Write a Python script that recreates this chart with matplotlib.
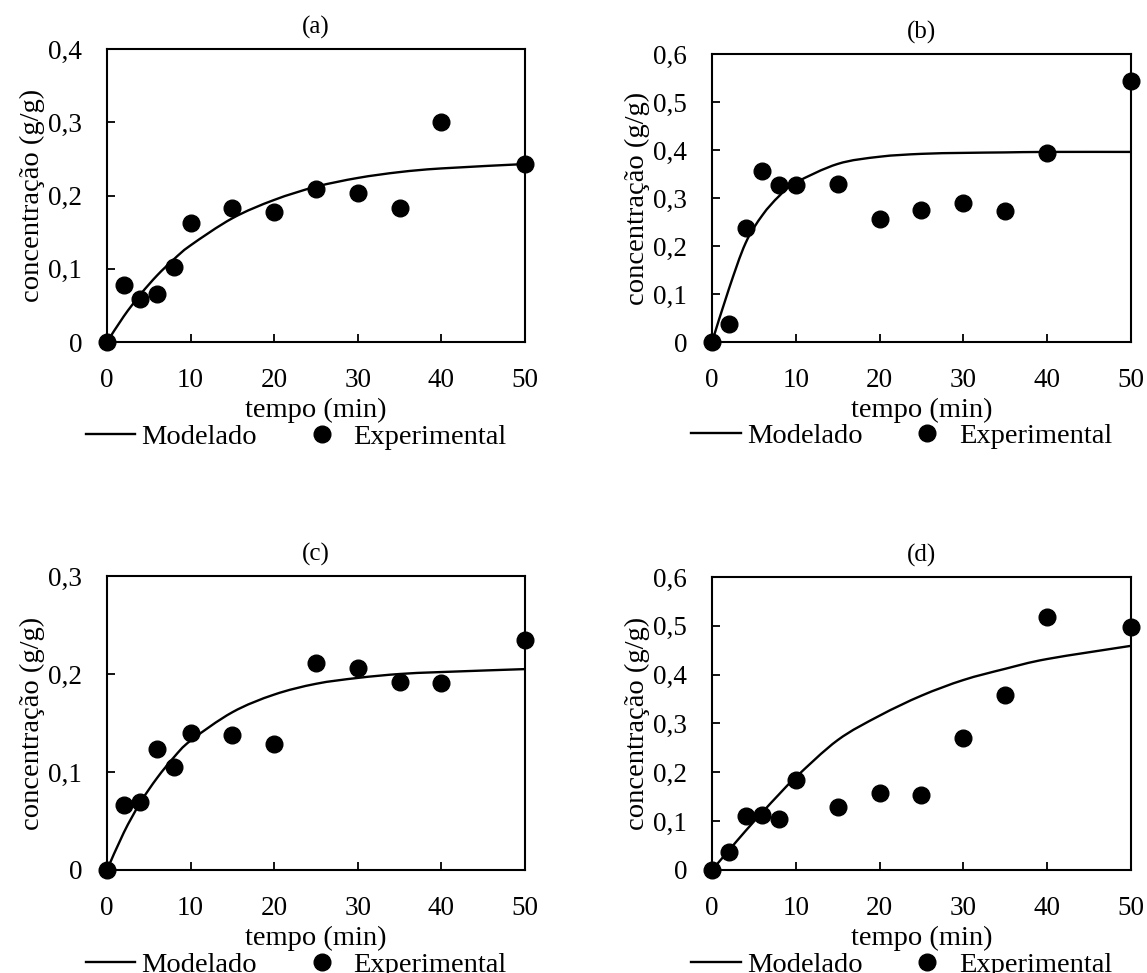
import numpy as np
import matplotlib
matplotlib.use("Agg")
import matplotlib.pyplot as plt
from matplotlib.path import Path
from matplotlib.patches import PathPatch
from matplotlib.lines import Line2D
from matplotlib.ticker import FuncFormatter

plt.rcParams['font.family'] = ['Liberation Serif', 'DejaVu Serif']

# tempo (min), common to all panels
tempo = [0, 2, 4, 6, 8, 10, 15, 20, 25, 30, 35, 40, 50]

# experimental points
exp_a = [0, 0.078, 0.059, 0.066, 0.103, 0.162, 0.183, 0.177, 0.209, 0.204, 0.183, 0.301, 0.243]
exp_b = [0, 0.038, 0.238, 0.356, 0.328, 0.328, 0.330, 0.257, 0.274, 0.290, 0.273, 0.393, 0.544]
exp_c = [0, 0.066, 0.069, 0.123, 0.105, 0.140, 0.138, 0.129, 0.211, 0.206, 0.192, 0.191, 0.235]
exp_d = [0, 0.036, 0.110, 0.113, 0.104, 0.184, 0.129, 0.158, 0.153, 0.271, 0.359, 0.518, 0.497]

# modelled curve values at the same times
mod_a = [0, 0.035, 0.065, 0.091, 0.113, 0.132, 0.169, 0.194, 0.212, 0.224, 0.232, 0.237, 0.243]
mod_b = [0, 0.110, 0.206, 0.264, 0.304, 0.332, 0.371, 0.386, 0.392, 0.394, 0.395, 0.396, 0.396]
mod_c = [0, 0.038, 0.069, 0.094, 0.115, 0.132, 0.161, 0.179, 0.190, 0.196, 0.200, 0.202, 0.205]
mod_d = [0, 0.040, 0.080, 0.118, 0.155, 0.190, 0.266, 0.316, 0.357, 0.389, 0.412, 0.432, 0.459]

titles = ['(a)', '(b)', '(c)', '(d)']
ymaxs = [0.4, 0.6, 0.3, 0.6]

# axes rectangles in figure fractions [left, bottom, width, height]
rects = [
    [0.0933, 0.6485, 0.3644, 0.3011],
    [0.6208, 0.6485, 0.3652, 0.2960],
    [0.0933, 0.1059, 0.3644, 0.3021],
    [0.6208, 0.1059, 0.3652, 0.3011],
]


def smooth_path(x, y):
    """Excel-like smoothed line: Catmull-Rom converted to cubic Bezier."""
    pts = np.column_stack([x, y]).astype(float)
    n = len(pts)
    verts = [pts[0]]
    codes = [Path.MOVETO]
    for i in range(n - 1):
        p0 = pts[i - 1] if i > 0 else pts[i]
        p1 = pts[i]
        p2 = pts[i + 1]
        p3 = pts[i + 2] if i + 2 < n else pts[i + 1]
        c1 = p1 + (p2 - p0) / 6.0
        c2 = p2 - (p3 - p1) / 6.0
        verts += [c1, c2, p2]
        codes += [Path.CURVE4] * 3
    return Path(verts, codes)


def fmt(v, pos):
    if abs(v) < 1e-9:
        return '0'
    return ('%.1f' % v).replace('.', ',')


fig = plt.figure(figsize=(11.47, 9.73), dpi=100)

for rect, title, ymax, ex, mo in zip(rects, titles, ymaxs,
                                     [exp_a, exp_b, exp_c, exp_d],
                                     [mod_a, mod_b, mod_c, mod_d]):
    ax = fig.add_axes(rect)
    ax.add_patch(PathPatch(smooth_path(tempo, mo), fill=False,
                           edgecolor='black', lw=1.7, clip_on=False))
    ax.plot(tempo, ex, 'o', color='black', markersize=12, clip_on=False, zorder=3)

    ax.set_xlim(0, 50)
    ax.set_ylim(0, ymax)
    ax.set_xticks(np.arange(0, 51, 10))
    ax.set_yticks(np.arange(0, ymax + 1e-9, 0.1))
    ax.yaxis.set_major_formatter(FuncFormatter(fmt))
    ax.tick_params(direction='in', length=6, width=1.3, labelsize=19.5)
    ax.tick_params(axis='x', pad=19)
    ax.tick_params(axis='y', pad=18)
    for s in ax.spines.values():
        s.set_linewidth(1.5)

    ax.set_xlabel('tempo (min)', fontsize=20.5, labelpad=3)
    ax.set_ylabel('concentração (g/g)', fontsize=20.5, labelpad=2)
    ax.set_title(title, fontsize=18, pad=11)

    handles = [Line2D([], [], color='black', lw=1.7),
               Line2D([], [], color='black', marker='o', ls='none', markersize=12)]
    ax.legend(handles, ['Modelado', 'Experimental'], loc='center',
              bbox_to_anchor=(0.452, -0.325), ncol=2, frameon=False,
              fontsize=20.5, handlelength=1.75, handletextpad=0.22,
              columnspacing=1.4, borderpad=0, borderaxespad=0)

fig.savefig('out.png', dpi=100)
